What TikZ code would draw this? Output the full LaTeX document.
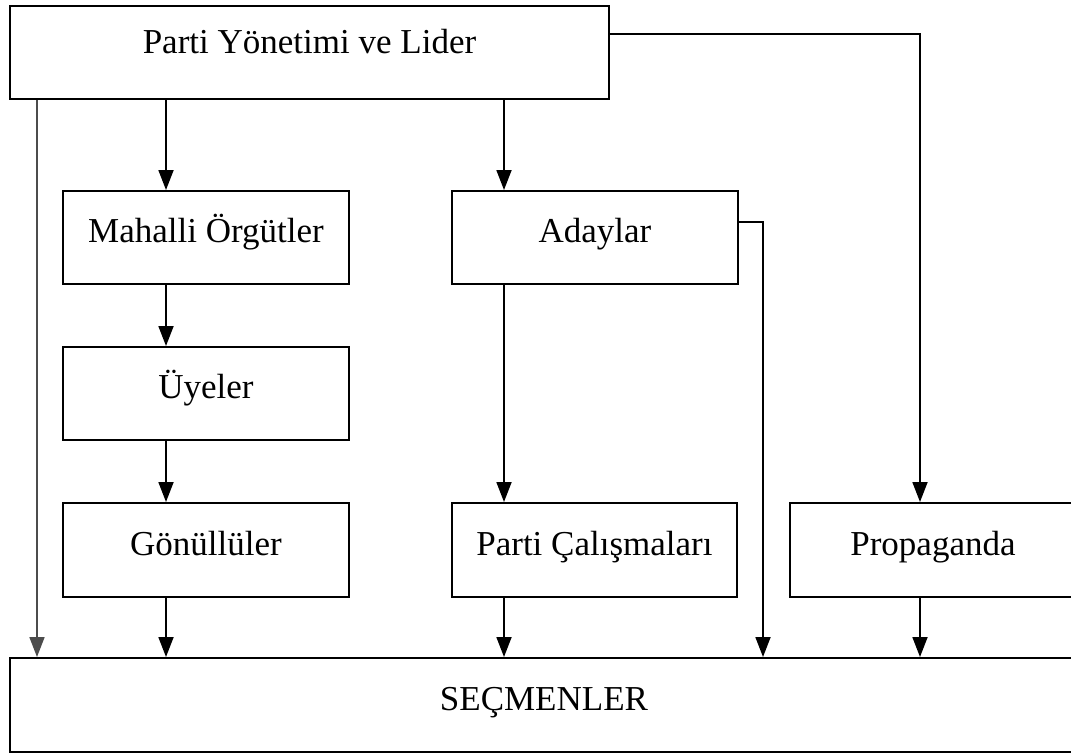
\documentclass[tikz,border=0pt]{standalone}
\usepackage{fontspec}
\setmainfont{Liberation Serif}
\usetikzlibrary{arrows.meta}
\begin{document}
\begin{tikzpicture}[x=1pt,y=-1pt,
  box/.style={draw, line width=1.9pt, rectangle, inner sep=0pt, anchor=north west,
    font=\fontsize{35}{37}\selectfont, text height=52pt, text depth=41pt},
  arr/.style={line width=1.8pt, -{Triangle[length=20pt,width=15pt]}}]
\useasboundingbox (0,0) rectangle (1071,753);
\clip (0,0) rectangle (1071,753);
% boxes
\node[box, minimum width=599pt, minimum height=93pt, text height=48pt, text depth=45pt] (top) at (9,5) {Parti Yönetimi ve Lider};
\node[box, minimum width=286pt, minimum height=93pt] (mah) at (62,190) {Mahalli Örgütler};
\node[box, minimum width=286pt, minimum height=93pt] (uye) at (62,346) {Üyeler};
\node[box, minimum width=286pt, minimum height=94pt] (gon) at (62,502) {Gönüllüler};
\node[box, minimum width=286pt, minimum height=93pt] (ada) at (451,190) {Adaylar};
\node[box, minimum width=285pt, minimum height=94pt] (pc) at (451,502) {Parti Çalışmaları};
\node[box, minimum width=286pt, minimum height=94pt] (prop) at (789,502) {Propaganda};
\node[box, minimum width=1068pt, minimum height=94pt] (sec) at (9,657) {SEÇMENLER};
% helper coordinates
\coordinate (xa) at (37,0);
\coordinate (xb) at (166,0);
\coordinate (xc) at (504,0);
\coordinate (xd) at (763,0);
\coordinate (xe) at (920,0);
\coordinate (ytop) at (0,34);
\coordinate (yad) at (0,222);
% connectors
\draw[arr, draw=black!70] (top.south -| xa) -- (sec.north -| xa);
\draw[arr] (top.south -| xb) -- (mah.north -| xb);
\draw[arr] (top.south -| xc) -- (ada.north -| xc);
\draw[arr] (mah.south -| xb) -- (uye.north -| xb);
\draw[arr] (uye.south -| xb) -- (gon.north -| xb);
\draw[arr] (gon.south -| xb) -- (sec.north -| xb);
\draw[arr] (ada.south -| xc) -- (pc.north -| xc);
\draw[arr] (pc.south -| xc) -- (sec.north -| xc);
\draw[arr] (ada.east |- yad) -| (sec.north -| xd);
\draw[arr] (top.east |- ytop) -| (prop.north -| xe);
\draw[arr] (prop.south -| xe) -- (sec.north -| xe);
\end{tikzpicture}
\end{document}
